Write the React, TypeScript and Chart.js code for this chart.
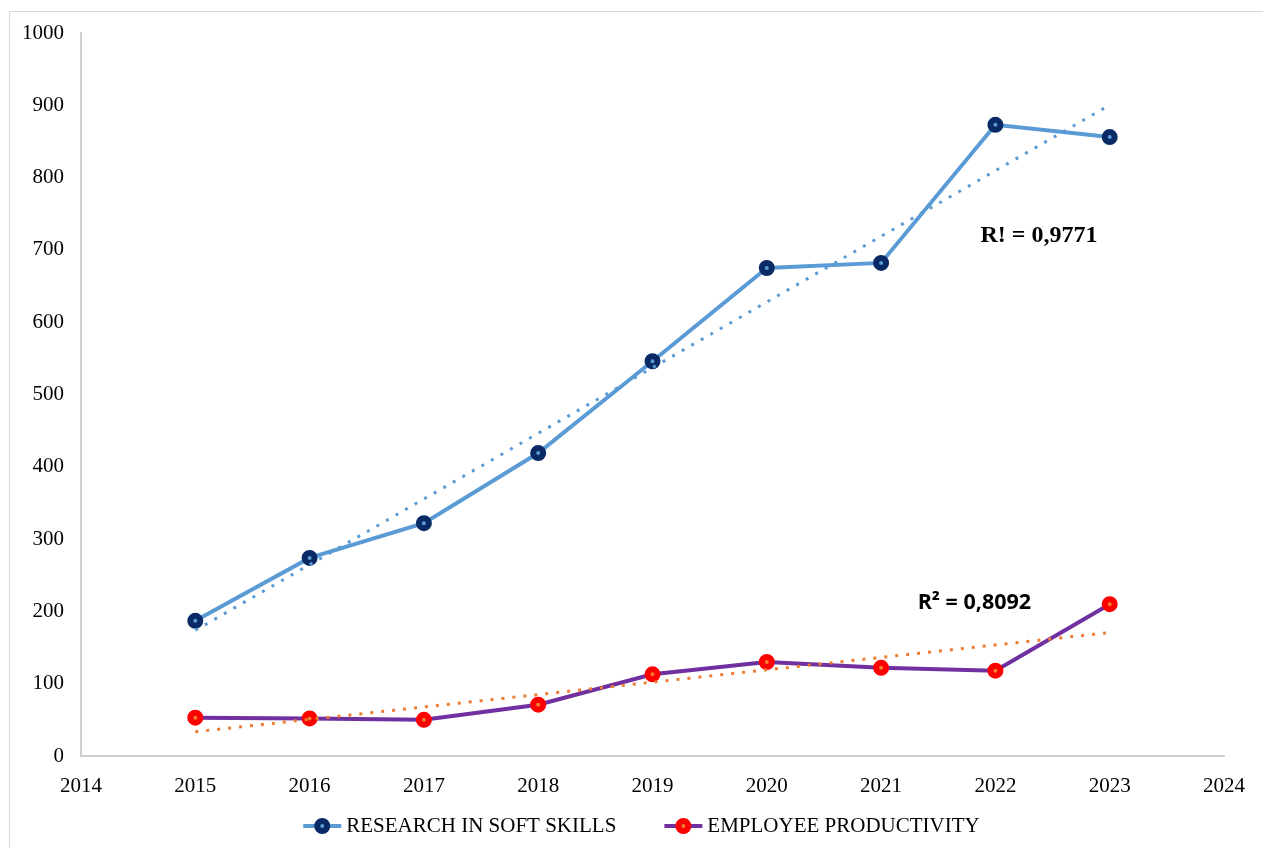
import React, { useEffect, useRef } from "react";
import { Chart, registerables } from "chart.js";

Chart.register(...registerables);

const years = [2015, 2016, 2017, 2018, 2019, 2020, 2021, 2022, 2023];
const researchSoftSkills = [187, 274, 322, 419, 546, 675, 682, 873, 856];
const employeeProductivity = [53, 52, 50, 71, 113, 130, 122, 118, 210];
const seriesNames = ["RESEARCH IN SOFT SKILLS", "EMPLOYEE PRODUCTIVITY"];
const r2Labels = ["R! = 0,9771", "R² = 0,8092"];
const xMin = 2014;
const xMax = 2024;
const yMin = 0;
const yMax = 1000;
const yStep = 100;

const BLUE = "#5b9bd5";
const NAVY = "#0a2a66";
const PURPLE = "#7030a0";
const RED = "#ff0000";
const ORANGE = "#ed7d31";
const SERIF = "'Liberation Serif', 'Times New Roman', serif";

const lineColors = [BLUE, PURPLE];
const markerFills = [BLUE, ORANGE];
const markerBorders = [NAVY, RED];

function linearFit(xs: number[], ys: number[]) {
  const n = xs.length;
  const mx = xs.reduce((a, b) => a + b, 0) / n;
  const my = ys.reduce((a, b) => a + b, 0) / n;
  let num = 0;
  let den = 0;
  for (let i = 0; i < n; i++) {
    num += (xs[i] - mx) * (ys[i] - my);
    den += (xs[i] - mx) * (xs[i] - mx);
  }
  const slope = num / den;
  const icpt = my - slope * mx;
  return [
    { x: xs[0], y: icpt + slope * xs[0] },
    { x: xs[n - 1], y: icpt + slope * xs[n - 1] },
  ];
}

const annotationPlugin = {
  id: "r2labels",
  afterDatasetsDraw(chart: any) {
    const { ctx, scales } = chart;
    const xs = scales.x;
    const ys = scales.y;
    ctx.save();
    ctx.fillStyle = "#000";
    ctx.textBaseline = "middle";
    ctx.textAlign = "left";
    ctx.font = `bold 24px ${SERIF}`;
    ctx.fillText(r2Labels[0], xs.getPixelForValue(2021.87), ys.getPixelForValue(719));
    ctx.font = `bold 21.5px 'Open Sans', 'Noto Sans', sans-serif`;
    ctx.fillText(r2Labels[1], xs.getPixelForValue(2021.32), ys.getPixelForValue(212));
    ctx.restore();
  },
};

const legendPlugin = {
  id: "lineMarkerLegend",
  afterDraw(chart: any) {
    const { ctx, chartArea } = chart;
    const LINE = 38;
    const GAP = 5;
    const SPACING = 48;
    ctx.save();
    ctx.font = `21px ${SERIF}`;
    const widths = seriesNames.map((t) => ctx.measureText(t).width);
    const total = widths.reduce((a, w) => a + LINE + GAP + w, 0) + SPACING * (seriesNames.length - 1);
    const center = (chartArea.left + chartArea.right) / 2 - 11;
    let x = center - total / 2;
    const y = chartArea.bottom + 70;
    seriesNames.forEach((name, i) => {
      ctx.strokeStyle = lineColors[i];
      ctx.lineWidth = 4;
      ctx.beginPath();
      ctx.moveTo(x, y);
      ctx.lineTo(x + LINE, y);
      ctx.stroke();
      ctx.beginPath();
      ctx.arc(x + LINE / 2, y, 5, 0, Math.PI * 2);
      ctx.fillStyle = markerFills[i];
      ctx.fill();
      ctx.lineWidth = 6;
      ctx.strokeStyle = markerBorders[i];
      ctx.stroke();
      ctx.fillStyle = "#000";
      ctx.textAlign = "left";
      ctx.textBaseline = "middle";
      ctx.fillText(name, x + LINE + GAP, y);
      x += LINE + GAP + widths[i] + SPACING;
    });
    ctx.restore();
  },
};

export default function App() {
  const ref = useRef<HTMLCanvasElement>(null);

  useEffect(() => {
    const xy = (vals: number[]) => years.map((x, i) => ({ x, y: vals[i] }));
    const chart = new Chart(ref.current!, {
      type: "line",
      data: {
        datasets: [
          {
            label: seriesNames[0],
            data: xy(researchSoftSkills),
            borderColor: BLUE,
            borderWidth: 4,
            backgroundColor: BLUE,
            pointBackgroundColor: BLUE,
            pointBorderColor: NAVY,
            pointRadius: 5,
            pointBorderWidth: 6,
            pointHoverRadius: 5,
            order: 1,
          },
          {
            label: seriesNames[1],
            data: xy(employeeProductivity),
            borderColor: PURPLE,
            borderWidth: 4,
            backgroundColor: PURPLE,
            pointBackgroundColor: ORANGE,
            pointBorderColor: RED,
            pointRadius: 5,
            pointBorderWidth: 6,
            pointHoverRadius: 5,
            order: 1,
          },
          {
            label: "trend1",
            data: linearFit(years, researchSoftSkills),
            borderColor: BLUE,
            borderWidth: 3,
            borderDash: [3, 8],
            pointRadius: 0,
            order: 0,
          },
          {
            label: "trend2",
            data: linearFit(years, employeeProductivity),
            borderColor: ORANGE,
            borderWidth: 3,
            borderDash: [3, 8],
            pointRadius: 0,
            order: 0,
          },
        ],
      },
      options: {
        animation: false,
        responsive: false,
        maintainAspectRatio: false,
        layout: { padding: { left: 0, top: 33, right: 39, bottom: 42 } },
        plugins: {
          tooltip: { enabled: false },
          legend: { display: false },
        },
        scales: {
          x: {
            type: "linear",
            min: xMin,
            max: xMax,
            grid: { display: false, drawTicks: false },
            border: { display: true, color: "#d0d0d0", width: 2 },
            ticks: {
              stepSize: 1,
              padding: 18,
              color: "#000",
              font: { family: SERIF, size: 21 },
              callback: (v: any) => String(v),
            },
            afterFit: (s: any) => {
              s.height = 50;
            },
          },
          y: {
            min: yMin,
            max: yMax,
            grid: { display: false, drawTicks: false },
            border: { display: true, color: "#d0d0d0", width: 2 },
            ticks: {
              stepSize: yStep,
              padding: 17,
              color: "#000",
              font: { family: SERIF, size: 21 },
              callback: (v: any) => String(v),
            },
            afterFit: (s: any) => {
              s.width = 81;
            },
          },
        },
      },
      plugins: [annotationPlugin, legendPlugin],
    } as any);
    return () => chart.destroy();
  }, []);

  return (
    <div style={{ position: "fixed", left: 0, top: 0, width: 1263, height: 848, background: "#fff" }}>
      <div
        style={{
          position: "absolute",
          left: 9,
          top: 11,
          width: 1280,
          height: 860,
          border: "1.5px solid #d9d9d9",
        }}
      />
      <canvas ref={ref} width={1263} height={848} style={{ position: "absolute", left: 0, top: 0, display: "block" }} />
    </div>
  );
}
